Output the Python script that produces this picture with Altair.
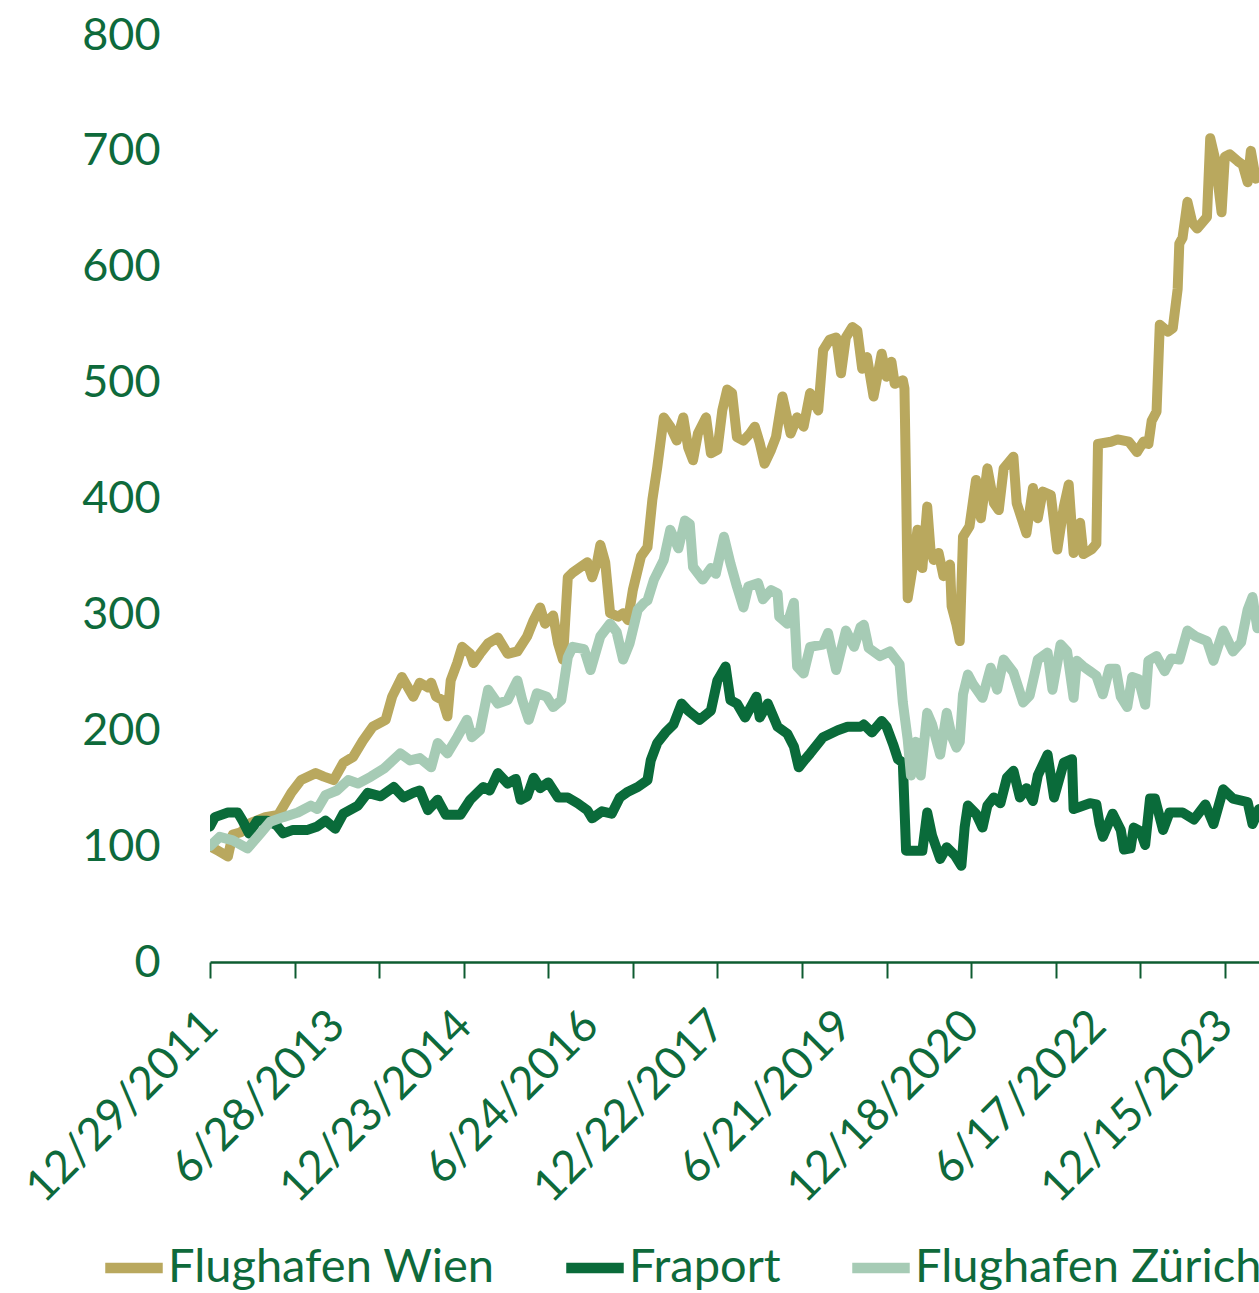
import json
import altair as alt
import pandas as pd

# ---- data (week index since 12/29/2011, indexed value) ----
wien_weeks = [0,5,11,14,19,25,34,42,50,56,65,70,76,82,88,94,100,108,112,118,125,129,134,136,139,143,146,148,152,155,160,162,166,171,177,183,189,195,199,203,206,211,214,217,220,223,228,232,235,238,240,243,246,251,254,257,260,265,269,272,275,279,283,287,291,294,297,300,305,308,312,315,318,321,324,328,332,335,338,341,345,348,352,357,361,365,369,374,377,381,385,388,391,395,398,401,404,408,413,416,419,421,426,427,428,429,432,435,438,441,443,445,448,451,455,456,459,461,463,467,471,474,478,482,485,488,494,496,502,506,509,512,517,521,525,528,531,535,537,542,545,546,554,558,565,570,574,577,579,582,584,589,592,595,596,598,601,604,607,610,613,615,618,622,624,627,632,635,638,640,643,645]
wien_vals = [100,96,91,110,112,120,125,127,146,157,163,160,157,172,177,191,203,209,229,246,229,241,237,241,229,226,212,243,258,272,266,258,266,275,280,266,268,281,295,306,292,299,275,261,332,336,341,345,332,345,360,345,301,298,301,295,321,350,358,399,427,470,462,450,470,444,433,456,470,439,442,476,494,491,453,450,456,462,448,430,442,453,488,456,470,462,491,476,528,537,539,508,539,548,545,512,522,488,525,505,518,499,502,495,412,314,340,373,340,393,356,347,353,333,343,307,291,277,367,376,416,383,426,396,390,426,436,396,370,409,383,406,403,356,393,412,353,379,352,356,361,447,449,451,449,440,449,447,467,475,550,544,547,581,620,625,656,638,633,638,643,711,693,647,695,697,691,688,673,700,676,680]

fraport_weeks = [0,3,11,17,20,24,29,35,41,45,51,60,66,71,77,82,91,97,105,113,119,125,129,134,140,145,154,160,168,172,177,183,188,191,195,199,203,208,214,220,226,232,235,241,247,252,257,263,269,271,275,280,285,290,294,301,308,312,317,320,324,329,336,338,343,349,355,359,362,366,369,377,386,392,400,402,407,413,416,420,423,426,428,432,438,441,444,449,453,458,462,464,466,471,475,478,482,486,490,494,498,502,506,509,515,519,525,530,531,535,541,545,547,549,555,560,562,566,568,572,575,578,581,586,590,598,605,612,617,623,629,638,641,645]
fraport_vals = [117,125,129,129,122,111,122,122,118,111,114,114,117,122,115,128,135,146,143,151,142,146,148,131,140,127,127,140,151,148,163,154,158,140,143,159,150,155,142,142,137,131,124,130,128,142,147,151,157,174,189,198,205,223,217,209,217,243,255,226,223,211,229,211,223,203,197,186,168,175,180,194,200,203,203,205,198,208,203,188,175,172,96,96,96,129,109,89,99,92,83,116,135,128,116,135,142,137,159,165,142,150,139,161,179,142,172,175,132,134,137,136,119,108,128,114,97,98,116,113,101,141,141,114,129,129,123,136,119,149,141,138,119,132]

zurich_weeks = [0,6,14,23,31,37,45,54,62,66,71,78,85,91,99,107,117,123,129,136,140,146,152,158,161,166,171,177,183,189,192,196,201,207,211,216,220,223,230,234,240,246,250,254,258,263,267,269,273,279,283,288,292,295,297,303,308,311,316,320,324,328,331,337,340,345,349,350,355,359,361,365,369,377,380,385,391,396,400,402,405,412,418,424,426,429,431,434,437,441,444,449,453,456,459,461,463,466,469,475,480,484,488,494,500,504,509,515,518,523,527,531,533,537,541,545,549,553,557,560,564,567,571,575,577,582,587,591,596,601,606,613,617,623,629,634,638,641,644,645]
zurich_vals = [100,108,105,98,111,121,125,129,135,132,144,148,157,154,160,167,180,174,176,168,189,180,194,209,194,200,235,223,226,243,226,209,232,229,220,226,263,272,270,252,281,292,285,261,275,304,310,312,330,347,373,357,381,378,341,330,340,335,367,344,324,306,324,327,313,321,318,298,292,310,255,249,272,274,284,252,286,272,289,291,271,264,268,257,224,192,161,190,161,215,205,179,215,195,185,190,231,248,240,228,254,235,261,250,224,230,261,267,235,274,268,228,260,255,251,247,231,253,253,229,220,246,244,222,260,264,251,262,261,286,281,277,260,286,268,276,304,315,288,290]

series_names = ["Flughafen Wien", "Fraport", "Flughafen Zürich"]
series_colors = ["#B9A85E", "#0A6B3A", "#A6CBB5"]
label_dates = ["12/29/2011", "6/28/2013", "12/23/2014", "6/24/2016", "12/22/2017",
               "6/21/2019", "12/18/2020", "6/17/2022", "12/15/2023"]
y_ticks = [0, 100, 200, 300, 400, 500, 600, 700, 800]

TEXT = "#0E6A3B"
AXIS = "#0E5C31"
FONT = "Lato"
FS = 45

frames = []
for name, w, v in [(series_names[0], wien_weeks, wien_vals),
                   (series_names[1], fraport_weeks, fraport_vals),
                   (series_names[2], zurich_weeks, zurich_vals)]:
    frames.append(pd.DataFrame({"week": w, "value": v, "series": name}))
df = pd.concat(frames, ignore_index=True)

label_expr = ("datum.value % 78 === 0 ? " + json.dumps(label_dates) +
              "[datum.value / 78] : ''")

x_enc = alt.X(
    "week:Q",
    scale=alt.Scale(domain=[0, 645], nice=False, zero=False),
    axis=alt.Axis(
        values=list(range(0, 646, 26)),
        labelExpr=label_expr,
        tickOpacity={"condition": {"test": "datum.value % 52 === 0", "value": 1}, "value": 0},
        labelAngle=-45, labelAlign="right", labelBaseline="middle",
        labelFont=FONT, labelFontSize=FS, labelColor=TEXT, labelLimit=500,
        labelOverlap=False, labelFlush=False, labelBound=False,
        tickSize=16, tickWidth=2, tickColor=AXIS,
        domainColor=AXIS, domainWidth=2.5,
        grid=False, title=None, labelPadding=40,
    ),
)
y_enc = alt.Y(
    "value:Q",
    scale=alt.Scale(domain=[0, 800], nice=False),
    axis=alt.Axis(values=y_ticks, labelFont=FONT, labelFontSize=FS, labelColor=TEXT,
                  domain=False, ticks=False, grid=False, title=None, labelPadding=50),
)
color_enc = alt.Color(
    "series:N",
    scale=alt.Scale(domain=series_names, range=series_colors),
    legend=alt.Legend(
        orient="none", legendX=-110, legendY=1199, direction="horizontal",
        title=None, labelFont=FONT, labelFontSize=47, labelColor=TEXT,
        symbolType="stroke", symbolStrokeWidth=10.5, symbolSize=3306,
        labelOffset=0, columnPadding=50, labelLimit=1000, padding=0,
    ),
)

layers = []
for name in series_names:
    layers.append(
        alt.Chart(df)
        .transform_filter(alt.datum.series == name)
        .mark_line(strokeWidth=10, strokeCap="round", strokeJoin="round", clip=True)
        .encode(x=x_enc, y=y_enc, color=color_enc)
    )

chart = (
    alt.layer(*layers)
    .properties(
        width=1049, height=927,
        background="white",
        autosize=alt.AutoSizeParams(type="none"),
        padding={"left": 210, "top": 35, "right": 0, "bottom": 331},
    )
    .configure_view(stroke="transparent", strokeWidth=0)
)

chart.save("out.html", embed_options={"renderer": "svg", "actions": False})
